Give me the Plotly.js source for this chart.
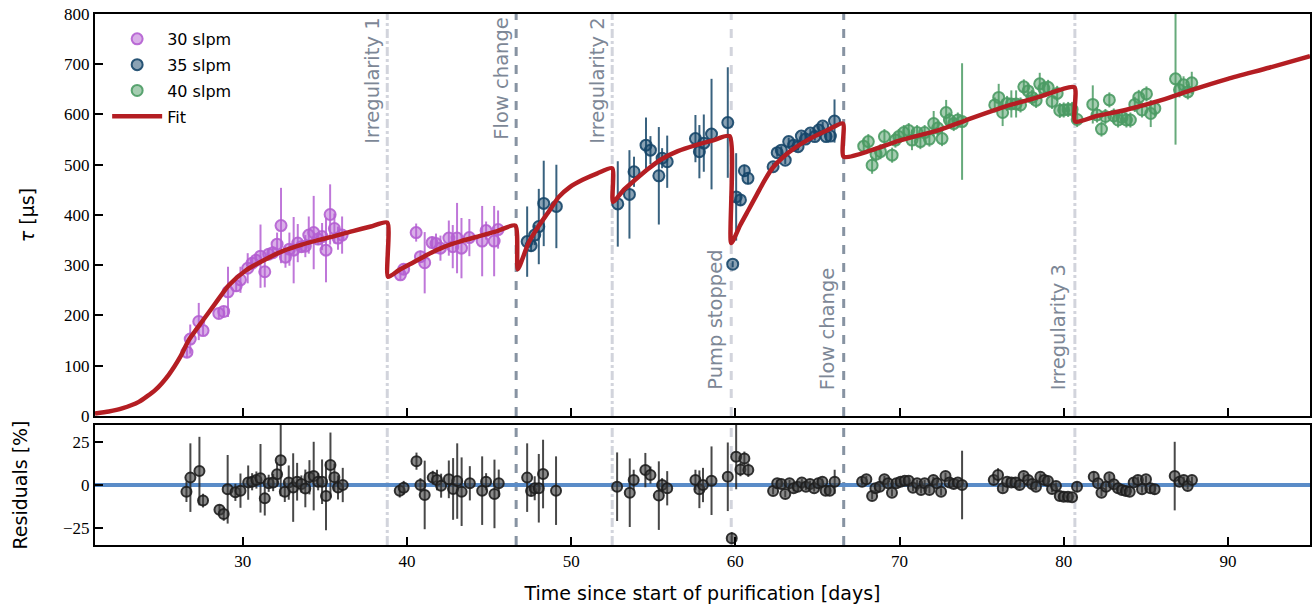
<!DOCTYPE html>
<html>
<head>
<meta charset="utf-8">
<script src="https://cdn.plot.ly/plotly-3.0.1.min.js"></script>
<style>html,body{margin:0;padding:0;background:#fff;}#chart{width:1315px;height:609px;}</style>
</head>
<body>
<div id="chart"></div>
<script>
// ---------- data: 30 slpm ----------
const days30 = [26.6,26.8,27.32,27.58,28.54,28.84,29.1,29.6,29.86,30.3,30.57,30.81,31.08,31.34,31.58,31.83,32.09,32.33,32.6,32.84,33.1,33.35,33.57,33.81,34.02,34.32,34.59,34.83,35.07,35.32,35.58,35.8,36.05,
  39.6,39.8,40.56,40.82,41.08,41.53,41.77,42.04,42.55,42.79,43.05,43.32,43.8,44.58,44.82,45.31,45.55];
const tau30 = [127,153,188,170,204,208,247,259,271,294,304,310,318,287,322,325,342,379,316,332,330,344,337,338,360,365,352,357,330,401,373,354,360,
  281,292,365,317,305,345,343,334,354,337,354,334,355,348,369,348,371];
const err30 = [10,29,37,10,10,10,50,12,26,30,12,12,63,31,12,12,23,75,21,33,66,38,12,22,37,73,12,27,64,60,30,23,37,
  10,10,18,12,61,12,20,25,35,43,70,60,37,70,18,70,38];

// ---------- data: 35 slpm ----------
const days35 = [47.32,47.56,47.78,48.03,48.33,49.1,
  52.84,53.55,53.83,54.56,54.83,55.34,55.54,55.85,
  57.57,57.81,58.08,58.55,59.54,
  59.84,60.05,60.31,60.55,60.77,
  62.3,62.55,62.8,63.04,63.25,63.55,63.82,64.02,64.27,64.57,64.84,65.08,65.32,65.53,65.79,66.04];
const tau35 = [347,339,360,377,423,417,
  422,441,486,539,529,478,513,506,
  552,526,543,561,584,
  302,436,430,488,473,
  496,524,529,509,546,539,536,557,551,563,556,569,577,556,557,587];
const err35 = [70,12,20,75,85,83,
  85,88,30,55,28,97,20,52,
  47,53,57,110,110,
  6,87,12,12,12,
  8,8,8,8,8,8,8,8,8,8,8,8,8,8,8,43];

// ---------- data: 40 slpm ----------
const days40 = [67.82,68.1,68.33,68.57,68.84,69.08,69.55,69.75,69.95,70.26,70.56,70.76,71.07,71.27,71.53,71.82,72.08,72.33,72.59,72.84,73.04,73.3,73.55,73.81,
  75.8,76.04,76.28,76.55,76.81,77.1,77.37,77.57,77.83,78.07,78.32,78.54,78.79,79.05,79.29,79.6,79.76,80.0,80.27,80.51,80.82,
  81.77,82.03,82.3,82.54,82.78,83.05,83.31,83.55,83.82,84.06,84.33,84.57,84.77,85.04,85.3,85.55,
  86.81,87.05,87.3,87.56,87.8];
const tau40 = [537,546,499,521,526,556,519,549,556,564,568,549,564,546,564,551,582,573,552,604,589,582,589,586,
  619,634,604,622,621,621,619,655,647,634,628,661,652,654,626,642,608,609,610,610,590,
  620,599,571,596,629,597,589,594,589,589,620,634,609,641,602,612,
  671,649,659,645,663];
const err40 = [15,15,17,15,15,15,15,15,15,15,15,20,15,15,15,15,25,15,15,25,15,15,15,116,
  15,27,27,15,27,27,15,15,15,15,15,22,15,15,15,15,15,15,15,15,15,
  38,15,15,15,15,15,15,15,15,15,15,15,15,15,27,15,
  131,15,17,15,22];

// ---------- fit curve ----------
const fitDays = [21,21.84,22.65,23.67,24.68,25.49,26.2,26.71,27.52,28.33,29.15,30.2,31.4,32.5,33.6,34.6,35.6,36.7,37.8,38.8,
  38.85,39.5,40.3,41.3,42.3,43.3,44.4,45.5,46.6,
  46.75,47.4,48.0,48.6,49.25,49.9,50.7,51.6,52.5,
  52.55,53.2,53.9,54.7,55.5,56.5,57.6,58.6,59.65,
  59.75,60.3,60.8,61.3,61.8,62.3,62.9,63.6,64.5,65.5,66.55,
  66.6,68.3,70,72.4,74,76.45,78.5,80.65,
  80.7,82,83.76,86,87.82,90,92.5,95];
const fitTau = [5,9,15,28,52,82,118,151,188,224,260,290,312,329,341,350,358,368,377,385,
  277,290,304,322,337,348,358,368,379,
  292,344,377,405,436,455,470,483,493,
  426,450,470,492,511,527,539,548,557,
  344,380,410,440,470,495,515,533,551,567,582,
  516,529,548,569,588,616,635,654,
  586,597,609,629,649,671,693,716];

// ---------- residuals [%] ----------
const residDays = [26.57,26.81,27.36,27.58,28.58,28.84,29.08,29.55,29.86,30.33,30.57,30.83,31.08,31.34,31.58,31.85,32.09,32.31,32.56,32.8,33.07,33.31,33.57,33.81,34.06,34.32,34.59,34.83,35.07,35.34,35.58,35.8,36.09,
  39.56,39.8,40.58,40.82,41.08,41.57,41.83,42.08,42.55,42.81,43.06,43.33,43.83,44.58,44.82,45.33,45.59,
  47.32,47.56,47.78,48.03,48.29,49.08,
  52.8,53.57,53.81,54.52,54.83,55.34,55.54,55.85,
  57.57,57.81,58.03,58.55,59.54,
  59.78,60.05,60.31,60.55,60.79,
  62.3,62.55,62.8,63.04,63.3,63.55,63.8,64.05,64.3,64.55,64.8,65.05,65.3,65.5,65.75,66.05,
  67.72,67.98,68.33,68.53,68.79,69.08,69.3,69.54,69.81,70.06,70.32,70.56,70.82,71.07,71.31,71.53,71.82,72.06,72.28,72.53,72.8,73.04,73.3,73.55,73.81,
  75.74,76.0,76.29,76.55,76.81,77.06,77.32,77.56,77.83,78.07,78.31,78.58,78.82,79.04,79.29,79.53,79.76,80.0,80.26,80.51,80.81,
  81.83,82.09,82.3,82.58,82.78,83.05,83.31,83.55,83.79,84.02,84.26,84.52,84.77,85.01,85.28,85.54,
  86.76,87.05,87.31,87.55,87.81];
const residPct = [-3.9,4.3,8.1,-9.1,-14.5,-16.9,-2.5,-4.3,-3.3,1.4,1.9,2.9,3.9,-7.8,1,1.4,6.2,14.5,-3.9,1.4,-1.5,1.9,0.6,-2,4.5,5.2,1.9,1.9,-6.4,11.6,4.5,-1.4,0,
  -3.3,-1.6,13.9,0,-5.8,4.3,2.9,-0.4,3.3,-2.3,2.3,-3.9,1,-3.3,1.9,-5.2,1,
  4.3,-3.5,-1.9,-1.9,6.4,-3.3,
  -1,-4.5,2.9,8.7,5.8,-6.2,0,-1.9,
  2.9,-2.5,0,2.5,4.8,
  -31,16.5,9.1,15.5,8.7,
  -3.5,1,0.6,-5.2,1,-1.9,-1,1.4,-1,0.6,-1.9,1,1.9,-3.3,-3.3,1.9,
  1.9,3.3,-6.4,-1.9,-1,3.3,1,-4.5,1,1.9,2.5,2.5,-1.6,1,-2.9,1,-2.9,2.9,1,-3.9,5.2,1.4,0.6,1.4,0,
  2.9,5.8,-1.9,1.9,1.4,1.4,0,5.2,2.9,0.6,-1,4.8,2.9,2.3,-2.3,-0.6,-6.4,-6.8,-6.8,-7.2,-1,
  4.8,1,-4.5,-1,4.5,0.4,-1.9,-2.9,-3.5,-3.9,1.4,2.9,-2.5,3.3,-1.9,-2.5,
  5.2,1.9,2.9,-0.6,2.9];
const residErr = [6,20,20,4,3,4,20,5,10,10,5,5,20,10,5,5,7,21,6,10,20,11,5,11,10,20,5,13,20,19,8,7,10,
  4,4,5,4,20,4,6,7,11,18,22,20,10,20,5,20,8,
  20,3,7,20,20,20,
  20,20,6,10,5,20,4,10,
  6,11,10,20,20,
  3.5,19,4,4,4,
  2,2,2,2,2,2,2,2,2,2,2,2,2,2,2,7,
  2,2,2,2,2,2,2,2,2,2,2,2,2,2,2,2,2,2,2,2,2,2,2,2,20,
  2,4,2,2,2,3,2,2,2,2,2,2,2,2,2,2,2,2,2,2,3,
  3,2,2,2,2,2,2,2,2,2,2,2,2,2,2,3,
  20,2,2,2,2];

// ---------- events ----------
const eventDays   = [38.8, 46.65, 52.5, 59.75, 66.6, 80.68];
const eventLabels = ["Irregularity 1", "Flow change", "Irregularity 2", "Pump stopped", "Flow change", "Irregularity 3"];
const eventKinds  = ["irregularity", "flow", "irregularity", "pump", "flow", "irregularity"];
const eventLabelPos = ["top", "top", "top", "bottom", "bottom", "bottom"];

// ---------- styles ----------
const C30 = "rgb(180,95,210)", C35 = "rgb(22,70,105)", C40 = "rgb(75,155,100)";
function rgba(c, a){ return c.replace("rgb(", "rgba(").replace(")", "," + a + ")"); }
const lineStyle = {
  irregularity: {color: "rgb(210,212,220)", dash: "dashdot", width: 3},
  flow: {color: "rgb(135,147,162)", dash: "dash", width: 3},
  pump: {color: "rgb(210,212,220)", dash: "dash", width: 3}
};

function dataTrace(x, y, e, c, name){
  return {
    x: x, y: y, type: "scatter", mode: "markers", name: name, legendgroup: name,
    xaxis: "x", yaxis: "y",
    error_y: {type: "data", array: e, visible: true, color: rgba(c, 0.85), thickness: 2, width: 0},
    marker: {symbol: "circle", size: 11, color: rgba(c, 0.5), line: {color: rgba(c, 0.9), width: 2}}
  };
}

const traces = [
  dataTrace(days30, tau30, err30, C30, "30 slpm"),
  dataTrace(days35, tau35, err35, C35, "35 slpm"),
  dataTrace(days40, tau40, err40, C40, "40 slpm"),
  {x: fitDays, y: fitTau, type: "scatter", mode: "lines", name: "Fit", legendgroup: "fit", xaxis: "x", yaxis: "y",
   line: {color: "rgb(180,30,35)", width: 4.5, shape: "spline", smoothing: 0.6}},
  {x: residDays, y: residPct, type: "scatter", mode: "markers", showlegend: false, xaxis: "x2", yaxis: "y2",
   error_y: {type: "data", array: residErr, visible: true, color: "rgba(40,40,40,0.85)", thickness: 2, width: 0},
   marker: {symbol: "circle", size: 10, color: "rgba(60,60,60,0.6)", line: {color: "rgba(30,30,30,0.9)", width: 2}}}
];

const shapes = [];
const annotations = [];
eventDays.forEach((d, i) => {
  const s = lineStyle[eventKinds[i]];
  ["y", "y2"].forEach(ax => {
    shapes.push({type: "line", xref: "x", yref: ax + " domain", x0: d, x1: d, y0: 0, y1: 1,
      line: {color: s.color, dash: s.dash, width: s.width}, layer: "below"});
  });
  const top = eventLabelPos[i] === "top";
  annotations.push({
    text: eventLabels[i], xref: "x", yref: "y domain", x: d, y: top ? 1 : 0,
    xanchor: "right", yanchor: top ? "top" : "bottom", xshift: -2, yshift: top ? -2 : 24,
    textangle: -90, showarrow: false,
    font: {family: "DejaVu Sans", size: 19.5, color: "rgb(125,135,150)"}
  });
});
// zero line in residual panel
shapes.push({type: "line", xref: "x2 domain", yref: "y2", x0: 0, x1: 1, y0: 0, y1: 0,
  line: {color: "rgb(90,140,200)", width: 4}, layer: "below"});

const tickFont = {family: "Liberation Serif, DejaVu Serif, serif", size: 17, color: "#000"};
const axBase = {showline: true, mirror: true, linecolor: "#000", linewidth: 2, ticks: "inside",
  ticklen: 8, tickwidth: 2, tickcolor: "#000", showgrid: false, zeroline: false, tickfont: tickFont};

const layout = {
  width: 1315, height: 609,
  margin: {l: 95, r: 5, t: 14, b: 64},
  paper_bgcolor: "#fff", plot_bgcolor: "#fff",
  font: {family: "DejaVu Sans", size: 16, color: "#000"},
  showlegend: true,
  legend: {x: 0.01, y: 0.985, xanchor: "left", yanchor: "top", bgcolor: "rgba(0,0,0,0)",
    font: {family: "DejaVu Sans", size: 16}, tracegroupgap: 2, itemwidth: 50},
  xaxis: Object.assign({}, axBase, {domain: [0, 1], anchor: "y", range: [21, 95], tickvals: [30,40,50,60,70,80,90], showticklabels: false}),
  yaxis: Object.assign({}, axBase, {domain: [0.243, 1], anchor: "x", range: [0, 800], tickvals: [0,100,200,300,400,500,600,700,800],
    title: {text: "<i>τ</i> [μs]", font: {family: "DejaVu Sans", size: 19}, standoff: 24}}),
  xaxis2: Object.assign({}, axBase, {domain: [0, 1], anchor: "y2", range: [21, 95], matches: "x", tickvals: [30,40,50,60,70,80,90],
    title: {text: "Time since start of purification [days]", font: {family: "DejaVu Sans", size: 19}, standoff: 16}}),
  yaxis2: Object.assign({}, axBase, {domain: [0, 0.226], anchor: "x2", range: [-35, 35], tickvals: [-25, 0, 25],
    title: {text: "Residuals [%]", font: {family: "DejaVu Sans", size: 19}, standoff: 30}}),
  shapes: shapes,
  annotations: annotations
};

Plotly.newPlot("chart", traces, layout, {displayModeBar: false, staticPlot: true});
</script>
</body>
</html>
